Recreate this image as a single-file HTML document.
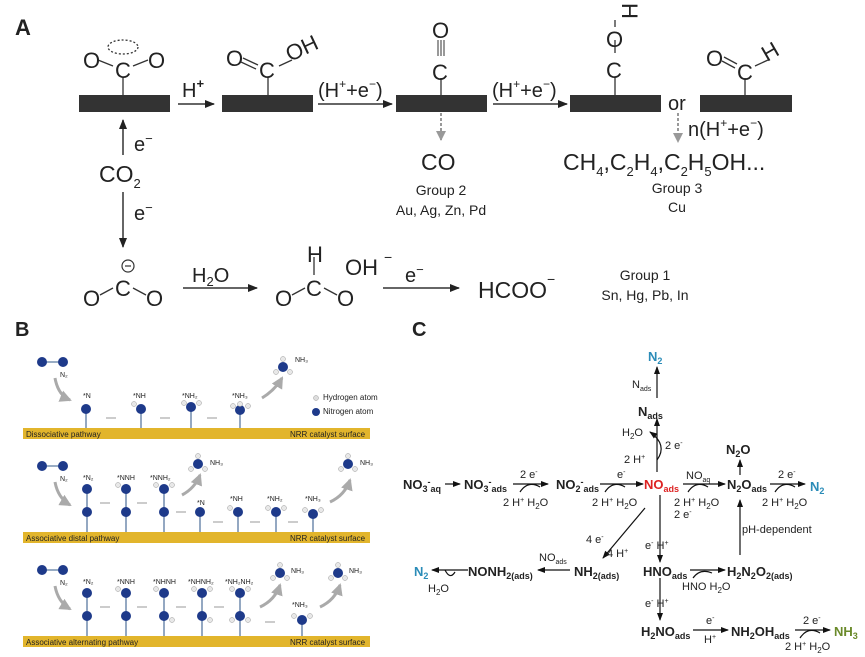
<!DOCTYPE html>
<html><head><meta charset="utf-8"><style>
body{margin:0;background:#fff}
svg{display:block}
text{font-family:"Liberation Sans",sans-serif;fill:#222}
.b{font-weight:bold}
.g{fill:#555}
</style></head><body>
<svg width="865" height="657" viewBox="0 0 865 657" xmlns="http://www.w3.org/2000/svg">
<defs>
<marker id="ah" markerWidth="10" markerHeight="8" refX="9" refY="4" orient="auto" markerUnits="userSpaceOnUse"><path d="M0,0 L10,4 L0,8 Z" fill="#222"/></marker>
<marker id="as" markerWidth="8" markerHeight="6" refX="7" refY="3" orient="auto" markerUnits="userSpaceOnUse"><path d="M0,0 L8,3 L0,6 Z" fill="#111"/></marker>
<marker id="ag" markerWidth="10" markerHeight="10" refX="9" refY="5" orient="auto" markerUnits="userSpaceOnUse"><path d="M0,0 L10,5 L0,10 Z" fill="#999"/></marker>
<marker id="ay" markerWidth="12" markerHeight="12" refX="10" refY="6" orient="auto" markerUnits="userSpaceOnUse"><path d="M0,0 L12,6 L0,12 Z" fill="#aaa"/></marker>
</defs>

<!-- Panel A -->
<text x="15" y="35" font-size="22" class="b" fill="#000">A</text>
<g fill="#333">
<rect x="79" y="95" width="91" height="17"/>
<rect x="222" y="95" width="91" height="17"/>
<rect x="396" y="95" width="91" height="17"/>
<rect x="570" y="95" width="91" height="17"/>
<rect x="700" y="95" width="92" height="17"/>
</g>
<g stroke="#333" stroke-width="1.3" fill="none">
<line x1="123" y1="77" x2="123" y2="95"/>
<line x1="268" y1="77" x2="268" y2="95"/>
<line x1="441" y1="78" x2="441" y2="95"/>
<line x1="615" y1="77" x2="615" y2="95"/>
<line x1="745" y1="78" x2="745" y2="95"/>
<ellipse cx="123" cy="47" rx="15" ry="7" stroke-dasharray="2,2"/>
<line x1="98" y1="60" x2="113" y2="66"/><line x1="133" y1="66" x2="148" y2="60"/>
<line x1="243" y1="58" x2="258" y2="65"/><line x1="241" y1="62" x2="256" y2="69"/>
<line x1="279" y1="66" x2="292" y2="60"/>
<g stroke-width="1"><line x1="438" y1="40" x2="438" y2="56"/><line x1="441" y1="40" x2="441" y2="56"/><line x1="444" y1="40" x2="444" y2="56"/></g>
<line x1="615" y1="40" x2="615" y2="53"/><line x1="615" y1="20" x2="615" y2="27"/>
<line x1="724" y1="57" x2="737" y2="64"/><line x1="722" y1="61" x2="735" y2="68"/>
<line x1="755" y1="66" x2="768" y2="60"/>
<line x1="100" y1="295" x2="113" y2="288"/><line x1="133" y1="288" x2="146" y2="295"/>
<line x1="292" y1="295" x2="305" y2="288"/><line x1="324" y1="288" x2="337" y2="295"/>
<line x1="314" y1="257" x2="314" y2="275"/>
</g>
<g font-size="22">
<text x="83" y="68">O</text><text x="115" y="78">C</text><text x="148" y="68">O</text>
<text x="226" y="66">O</text><text x="259" y="78">C</text>
<text x="290" y="62" transform="rotate(-25 290 62)">OH</text>
<text x="432" y="80">C</text><text x="432" y="38">O</text>
<text x="606" y="78">C</text><text x="606" y="47">O</text>
<text x="622" y="3" transform="rotate(90 622 3)">H</text>
<text x="706" y="66">O</text><text x="737" y="80">C</text>
<text x="767" y="62" transform="rotate(-30 767 62)">H</text>
<text x="83" y="306">O</text><text x="115" y="296">C</text><text x="146" y="306">O</text>
<text x="275" y="306">O</text><text x="306" y="296">C</text><text x="337" y="306">O</text>
<text x="307" y="262">H</text>
<text x="345" y="275">OH</text><text x="384" y="262" font-size="14">−</text>
</g>
<circle cx="128" cy="266" r="6" fill="none" stroke="#333" stroke-width="1.2"/><line x1="125" y1="266" x2="131" y2="266" stroke="#333" stroke-width="1.2"/>
<g stroke="#333" stroke-width="1.5">
<line x1="178" y1="104" x2="214" y2="104" marker-end="url(#ah)"/>
<line x1="318" y1="104" x2="392" y2="104" marker-end="url(#ah)"/>
<line x1="493" y1="104" x2="567" y2="104" marker-end="url(#ah)"/>
<line x1="123" y1="155" x2="123" y2="120" marker-end="url(#ah)"/>
<line x1="123" y1="192" x2="123" y2="247" marker-end="url(#ah)"/>
<line x1="183" y1="288" x2="257" y2="288" marker-end="url(#ah)"/>
<line x1="383" y1="288" x2="459" y2="288" marker-end="url(#ah)"/>
</g>
<g stroke="#999" stroke-width="2" stroke-dasharray="3,2">
<line x1="441" y1="113" x2="441" y2="140" marker-end="url(#ag)"/>
<line x1="678" y1="113" x2="678" y2="142" marker-end="url(#ag)"/>
</g>
<g font-size="20">
<text x="182" y="97">H<tspan font-size="13" dy="-9" class="b">+</tspan></text>
<text x="318" y="97">(H<tspan font-size="12" dy="-9">+</tspan><tspan dy="9">+e</tspan><tspan font-size="12" dy="-9">−</tspan><tspan dy="9">)</tspan></text>
<text x="492" y="97">(H<tspan font-size="12" dy="-9">+</tspan><tspan dy="9">+e</tspan><tspan font-size="12" dy="-9">−</tspan><tspan dy="9">)</tspan></text>
<text x="668" y="110">or</text>
<text x="688" y="136">n(H<tspan font-size="12" dy="-9">+</tspan><tspan dy="9">+e</tspan><tspan font-size="12" dy="-9">−</tspan><tspan dy="9">)</tspan></text>
<text x="134" y="151">e<tspan font-size="13" dy="-8">−</tspan></text>
<text x="134" y="220">e<tspan font-size="13" dy="-8">−</tspan></text>
<text x="192" y="282">H<tspan font-size="13" dy="4">2</tspan><tspan dy="-4">O</tspan></text>
<text x="405" y="282">e<tspan font-size="13" dy="-8">−</tspan></text>
</g>
<g font-size="23">
<text x="99" y="182">CO<tspan font-size="13" dy="6">2</tspan></text>
<text x="421" y="170">CO</text>
<text x="563" y="170">CH<tspan font-size="13" dy="6">4</tspan><tspan dy="-6">,C</tspan><tspan font-size="13" dy="6">2</tspan><tspan dy="-6">H</tspan><tspan font-size="13" dy="6">4</tspan><tspan dy="-6">,C</tspan><tspan font-size="13" dy="6">2</tspan><tspan dy="-6">H</tspan><tspan font-size="13" dy="6">5</tspan><tspan dy="-6">OH...</tspan></text>
<text x="478" y="298">HCOO<tspan font-size="14" dy="-14">−</tspan></text>
</g>
<g font-size="14" class="g" text-anchor="middle">
<text x="441" y="195">Group 2</text><text x="441" y="215">Au, Ag, Zn, Pd</text>
<text x="677" y="193">Group 3</text><text x="677" y="212">Cu</text>
<text x="645" y="280">Group 1</text><text x="645" y="300">Sn, Hg, Pb, In</text>
</g>

<!-- Panel B -->
<text x="15" y="336" font-size="20" class="b" fill="#000">B</text>
<g fill="#e2b52c">
<rect x="23" y="428" width="347" height="11"/>
<rect x="23" y="532" width="347" height="11"/>
<rect x="23" y="636" width="347" height="11"/>
</g>
<g font-size="8">
<text x="26" y="437" fill="#222">Dissociative pathway</text>
<text x="26" y="541" fill="#222">Associative distal pathway</text>
<text x="26" y="645" fill="#222">Associative alternating pathway</text>
<text x="290" y="437" fill="#555">NRR catalyst surface</text>
<text x="290" y="541" fill="#555">NRR catalyst surface</text>
<text x="290" y="645" fill="#555">NRR catalyst surface</text>
<text x="323" y="400" fill="#555">Hydrogen atom</text>
<text x="323" y="414" fill="#555">Nitrogen atom</text>
</g>
<circle cx="316" cy="398" r="2.5" fill="#ddd" stroke="#999" stroke-width=".5"/>
<circle cx="316" cy="412" r="4" fill="#1e3a8a"/>
<g stroke="#aaa" stroke-width="3" fill="none">
<path d="M55,378 Q58,395 70,400" marker-end="url(#ay)"/>
<path d="M55,482 Q58,498 70,505" marker-end="url(#ay)"/>
<path d="M55,586 Q58,602 70,609" marker-end="url(#ay)"/>
<path d="M262,398 Q275,390 282,378" marker-end="url(#ay)"/>
<path d="M182,495 Q195,488 200,475" marker-end="url(#ay)"/>
<path d="M330,502 Q345,495 350,480" marker-end="url(#ay)"/>
<path d="M260,607 Q275,600 280,585" marker-end="url(#ay)"/>
<path d="M320,607 Q335,600 340,585" marker-end="url(#ay)"/>
</g>
<g stroke="#aaa" stroke-width="1.2">
<line x1="106" y1="418" x2="116" y2="418"/><line x1="160" y1="418" x2="170" y2="418"/><line x1="207" y1="418" x2="217" y2="418"/>
<line x1="100" y1="503" x2="110" y2="503"/><line x1="137" y1="503" x2="147" y2="503"/><line x1="176" y1="512" x2="186" y2="512"/>
<line x1="213" y1="522" x2="223" y2="522"/><line x1="250" y1="522" x2="260" y2="522"/><line x1="288" y1="522" x2="298" y2="522"/>
<line x1="100" y1="607" x2="110" y2="607"/><line x1="137" y1="607" x2="147" y2="607"/><line x1="176" y1="607" x2="186" y2="607"/><line x1="214" y1="607" x2="224" y2="607"/><line x1="265" y1="622" x2="275" y2="622"/>
</g>
<g stroke="#5b7aa0" stroke-width="1.3">
<line x1="86" y1="410" x2="86" y2="428"/><line x1="141" y1="410" x2="141" y2="428"/><line x1="191" y1="410" x2="191" y2="428"/><line x1="240" y1="410" x2="240" y2="428"/>
<line x1="87" y1="487" x2="87" y2="532"/><line x1="126" y1="487" x2="126" y2="532"/><line x1="164" y1="490" x2="164" y2="532"/><line x1="200" y1="513" x2="200" y2="532"/><line x1="238" y1="513" x2="238" y2="532"/><line x1="276" y1="513" x2="276" y2="532"/><line x1="313" y1="515" x2="313" y2="532"/>
<line x1="87" y1="590" x2="87" y2="636"/><line x1="126" y1="590" x2="126" y2="636"/><line x1="164" y1="590" x2="164" y2="636"/><line x1="202" y1="590" x2="202" y2="636"/><line x1="240" y1="590" x2="240" y2="636"/><line x1="302" y1="622" x2="302" y2="636"/>
<line x1="42" y1="362" x2="62" y2="362"/><line x1="42" y1="466" x2="62" y2="466"/><line x1="42" y1="570" x2="62" y2="570"/>
</g>
<g fill="#1e3a8a">
<circle cx="42" cy="362" r="5"/><circle cx="63" cy="362" r="5"/>
<circle cx="42" cy="466" r="5"/><circle cx="63" cy="466" r="5"/>
<circle cx="42" cy="570" r="5"/><circle cx="63" cy="570" r="5"/>
<circle cx="86" cy="409" r="5"/><circle cx="141" cy="409" r="5"/><circle cx="191" cy="407" r="5"/><circle cx="240" cy="410" r="5"/><circle cx="283" cy="367" r="5"/>
<circle cx="87" cy="489" r="5"/><circle cx="87" cy="512" r="5"/><circle cx="126" cy="489" r="5"/><circle cx="126" cy="512" r="5"/><circle cx="164" cy="489" r="5"/><circle cx="164" cy="512" r="5"/><circle cx="200" cy="512" r="5"/><circle cx="238" cy="512" r="5"/><circle cx="276" cy="512" r="5"/><circle cx="313" cy="514" r="5"/><circle cx="198" cy="464" r="5"/><circle cx="348" cy="464" r="5"/>
<circle cx="87" cy="593" r="5"/><circle cx="87" cy="616" r="5"/><circle cx="126" cy="593" r="5"/><circle cx="126" cy="616" r="5"/><circle cx="164" cy="593" r="5"/><circle cx="164" cy="616" r="5"/><circle cx="202" cy="593" r="5"/><circle cx="202" cy="616" r="5"/><circle cx="240" cy="593" r="5"/><circle cx="240" cy="616" r="5"/><circle cx="302" cy="620" r="5"/><circle cx="280" cy="573" r="5"/><circle cx="338" cy="573" r="5"/>
</g>
<g fill="#e8e8e8" stroke="#999" stroke-width=".5">
<circle cx="134" cy="404" r="2.5"/><circle cx="184" cy="403" r="2.5"/><circle cx="199" cy="403" r="2.5"/><circle cx="233" cy="406" r="2.5"/><circle cx="248" cy="406" r="2.5"/><circle cx="240" cy="404" r="2.5"/>
<circle cx="283" cy="359" r="2.5"/><circle cx="276" cy="372" r="2.5"/><circle cx="290" cy="372" r="2.5"/>
<circle cx="118" cy="485" r="2.5"/><circle cx="156" cy="485" r="2.5"/><circle cx="172" cy="485" r="2.5"/><circle cx="198" cy="456" r="2.5"/><circle cx="191" cy="469" r="2.5"/><circle cx="205" cy="469" r="2.5"/>
<circle cx="230" cy="508" r="2.5"/><circle cx="268" cy="508" r="2.5"/><circle cx="284" cy="508" r="2.5"/><circle cx="305" cy="510" r="2.5"/><circle cx="321" cy="510" r="2.5"/><circle cx="348" cy="456" r="2.5"/><circle cx="341" cy="469" r="2.5"/><circle cx="355" cy="469" r="2.5"/>
<circle cx="118" cy="589" r="2.5"/><circle cx="156" cy="589" r="2.5"/><circle cx="172" cy="620" r="2.5"/><circle cx="194" cy="589" r="2.5"/><circle cx="210" cy="589" r="2.5"/><circle cx="210" cy="620" r="2.5"/><circle cx="232" cy="589" r="2.5"/><circle cx="248" cy="589" r="2.5"/><circle cx="232" cy="620" r="2.5"/><circle cx="248" cy="620" r="2.5"/>
<circle cx="294" cy="616" r="2.5"/><circle cx="310" cy="616" r="2.5"/><circle cx="280" cy="565" r="2.5"/><circle cx="273" cy="578" r="2.5"/><circle cx="287" cy="578" r="2.5"/><circle cx="338" cy="565" r="2.5"/><circle cx="331" cy="578" r="2.5"/><circle cx="345" cy="578" r="2.5"/>
</g>
<g font-size="7" fill="#666">
<text x="60" y="377" fill="#666">N₂</text><text x="83" y="398" fill="#666">*N</text><text x="133" y="398" fill="#666">*NH</text><text x="182" y="398" fill="#666">*NH₂</text><text x="232" y="398" fill="#666">*NH₃</text><text x="295" y="362" fill="#666">NH₃</text>
<text x="60" y="481" fill="#666">N₂</text><text x="83" y="480" fill="#666">*N₂</text><text x="117" y="480" fill="#666">*NNH</text><text x="150" y="480" fill="#666">*NNH₂</text><text x="197" y="505" fill="#666">*N</text><text x="230" y="501" fill="#666">*NH</text><text x="267" y="501" fill="#666">*NH₂</text><text x="305" y="501" fill="#666">*NH₃</text><text x="210" y="465" fill="#666">NH₃</text><text x="360" y="465" fill="#666">NH₃</text>
<text x="60" y="585" fill="#666">N₂</text><text x="83" y="584" fill="#666">*N₂</text><text x="117" y="584" fill="#666">*NNH</text><text x="153" y="584" fill="#666">*NHNH</text><text x="188" y="584" fill="#666">*NHNH₂</text><text x="225" y="584" fill="#666">*NH₂NH₂</text><text x="292" y="607" fill="#666">*NH₃</text><text x="291" y="573" fill="#666">NH₃</text><text x="349" y="573" fill="#666">NH₃</text>
</g>

<!-- Panel C -->
<text x="412" y="336" font-size="20" class="b" fill="#000">C</text>
<g stroke="#111" stroke-width="1.2" fill="none">
<line x1="657" y1="398" x2="657" y2="367" marker-end="url(#as)"/>
<line x1="657" y1="472" x2="657" y2="419" marker-end="url(#as)"/>
<path d="M657,460 Q668,445 650,432" marker-end="url(#as)"/>
<line x1="445" y1="484" x2="460" y2="484" marker-end="url(#as)"/>
<line x1="513" y1="484" x2="548" y2="484" marker-end="url(#as)"/><path d="M520,492 Q528,480 540,487"/>
<line x1="600" y1="484" x2="643" y2="484" marker-end="url(#as)"/><path d="M605,492 Q613,480 625,487"/>
<line x1="683" y1="484" x2="725" y2="484" marker-end="url(#as)"/><path d="M688,492 Q696,480 708,487"/>
<line x1="770" y1="484" x2="805" y2="484" marker-end="url(#as)"/><path d="M775,492 Q783,480 795,487"/>
<line x1="740" y1="475" x2="740" y2="460" marker-end="url(#as)"/>
<line x1="740" y1="555" x2="740" y2="500" marker-end="url(#as)"/>
<line x1="645" y1="508" x2="603" y2="558" marker-end="url(#as)"/>
<line x1="570" y1="570" x2="538" y2="570" marker-end="url(#as)"/>
<line x1="468" y1="570" x2="432" y2="570" marker-end="url(#as)"/><path d="M445,570 Q450,580 455,572"/>
<line x1="660" y1="495" x2="660" y2="562" marker-end="url(#as)"/>
<line x1="690" y1="570" x2="725" y2="570" marker-end="url(#as)"/><path d="M693,578 Q700,568 712,573"/>
<line x1="660" y1="578" x2="660" y2="620" marker-end="url(#as)"/>
<line x1="693" y1="630" x2="728" y2="630" marker-end="url(#as)"/>
<line x1="795" y1="630" x2="830" y2="630" marker-end="url(#as)"/><path d="M800,638 Q808,626 820,633"/>
</g>
<g font-size="13" class="b" fill="#111">
<text x="648" y="361" style="fill:#2b8cb8">N<tspan font-size="9" dy="3">2</tspan></text>
<text x="638" y="416">N<tspan font-size="9" dy="3">ads</tspan></text>
<text x="403" y="489">NO<tspan font-size="9" dy="3">3</tspan><tspan font-size="9" dy="-7">-</tspan><tspan font-size="9" dy="7">aq</tspan></text>
<text x="464" y="489">NO<tspan font-size="9" dy="3">3</tspan><tspan font-size="9" dy="-7">-</tspan><tspan font-size="9" dy="7">ads</tspan></text>
<text x="556" y="489">NO<tspan font-size="9" dy="3">2</tspan><tspan font-size="9" dy="-7">-</tspan><tspan font-size="9" dy="7">ads</tspan></text>
<text x="644" y="489" style="fill:#d22">NO<tspan font-size="9" dy="3">ads</tspan></text>
<text x="726" y="454">N<tspan font-size="9" dy="3">2</tspan><tspan dy="-3">O</tspan></text>
<text x="727" y="489">N<tspan font-size="9" dy="3">2</tspan><tspan dy="-3">O</tspan><tspan font-size="9" dy="3">ads</tspan></text>
<text x="810" y="491" style="fill:#2b8cb8">N<tspan font-size="9" dy="3">2</tspan></text>
<text x="414" y="576" style="fill:#2b8cb8">N<tspan font-size="9" dy="3">2</tspan></text>
<text x="468" y="576">NONH<tspan font-size="9" dy="3">2(ads)</tspan></text>
<text x="574" y="576">NH<tspan font-size="9" dy="3">2(ads)</tspan></text>
<text x="643" y="576">HNO<tspan font-size="9" dy="3">ads</tspan></text>
<text x="727" y="576">H<tspan font-size="9" dy="3">2</tspan><tspan dy="-3">N</tspan><tspan font-size="9" dy="3">2</tspan><tspan dy="-3">O</tspan><tspan font-size="9" dy="3">2(ads)</tspan></text>
<text x="641" y="636">H<tspan font-size="9" dy="3">2</tspan><tspan dy="-3">NO</tspan><tspan font-size="9" dy="3">ads</tspan></text>
<text x="731" y="636">NH<tspan font-size="9" dy="3">2</tspan><tspan dy="-3">OH</tspan><tspan font-size="9" dy="3">ads</tspan></text>
<text x="834" y="636" style="fill:#6a8a2a">NH<tspan font-size="9" dy="3">3</tspan></text>
</g>
<g font-size="11" fill="#222">
<text x="632" y="388">N<tspan font-size="7" dy="3">ads</tspan></text>
<text x="622" y="436">H<tspan font-size="8" dy="3">2</tspan><tspan dy="-3">O</tspan></text>
<text x="665" y="449">2 e<tspan font-size="7" dy="-4">-</tspan></text>
<text x="624" y="463">2 H<tspan font-size="7" dy="-4">+</tspan></text>
<text x="520" y="478">2 e<tspan font-size="7" dy="-4">-</tspan></text>
<text x="503" y="506">2 H<tspan font-size="7" dy="-4">+</tspan><tspan dy="4"> H</tspan><tspan font-size="8" dy="3">2</tspan><tspan dy="-3">O</tspan></text>
<text x="617" y="478">e<tspan font-size="7" dy="-4">-</tspan></text>
<text x="592" y="506">2 H<tspan font-size="7" dy="-4">+</tspan><tspan dy="4"> H</tspan><tspan font-size="8" dy="3">2</tspan><tspan dy="-3">O</tspan></text>
<text x="686" y="479">NO<tspan font-size="7" dy="3">aq</tspan></text>
<text x="674" y="506">2 H<tspan font-size="7" dy="-4">+</tspan><tspan dy="4"> H</tspan><tspan font-size="8" dy="3">2</tspan><tspan dy="-3">O</tspan></text>
<text x="674" y="518">2 e<tspan font-size="7" dy="-4">-</tspan></text>
<text x="778" y="478">2 e<tspan font-size="7" dy="-4">-</tspan></text>
<text x="762" y="506">2 H<tspan font-size="7" dy="-4">+</tspan><tspan dy="4"> H</tspan><tspan font-size="8" dy="3">2</tspan><tspan dy="-3">O</tspan></text>
<text x="742" y="533">pH-dependent</text>
<text x="586" y="543">4 e<tspan font-size="7" dy="-4">-</tspan></text>
<text x="607" y="557">4 H<tspan font-size="7" dy="-4">+</tspan></text>
<text x="539" y="561">NO<tspan font-size="7" dy="3">ads</tspan></text>
<text x="428" y="592">H<tspan font-size="8" dy="3">2</tspan><tspan dy="-3">O</tspan></text>
<text x="645" y="549">e<tspan font-size="7" dy="-4">-</tspan><tspan dy="4">  H</tspan><tspan font-size="7" dy="-4">+</tspan></text>
<text x="682" y="590">HNO H<tspan font-size="8" dy="3">2</tspan><tspan dy="-3">O</tspan></text>
<text x="645" y="607">e<tspan font-size="7" dy="-4">-</tspan><tspan dy="4">  H</tspan><tspan font-size="7" dy="-4">+</tspan></text>
<text x="706" y="624">e<tspan font-size="7" dy="-4">-</tspan></text>
<text x="704" y="643">H<tspan font-size="7" dy="-4">+</tspan></text>
<text x="803" y="624">2 e<tspan font-size="7" dy="-4">-</tspan></text>
<text x="785" y="650">2 H<tspan font-size="7" dy="-4">+</tspan><tspan dy="4"> H</tspan><tspan font-size="8" dy="3">2</tspan><tspan dy="-3">O</tspan></text>
</g>
</svg>
</body></html>
